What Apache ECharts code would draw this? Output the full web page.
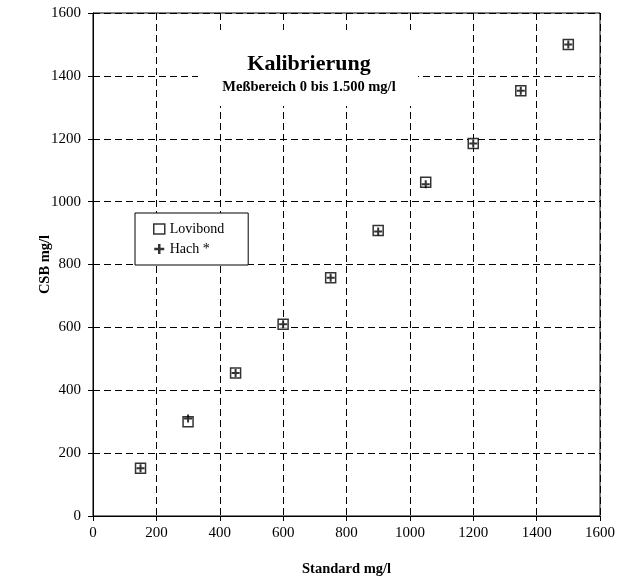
<!DOCTYPE html>
<html>
<head>
<meta charset="utf-8">
<script src="https://cdn.jsdelivr.net/npm/echarts@6/dist/echarts.min.js"></script>
<style>
    html, body { margin: 0; padding: 0; background: #fff; }
    #chart { width: 625px; height: 582px; }
</style>
</head>
<body>
<div id="chart"></div>
<script>
    // Messwerte
    var standard = [150, 300, 450, 600, 750, 900, 1050, 1200, 1350, 1500];
    var lovibond = [152, 300, 455, 610, 758, 908, 1062, 1185, 1353, 1500];
    var hach = [152, 310, 455, 610, 758, 905, 1055, 1185, 1353, 1500];

    var font = '"Liberation Serif", "Times New Roman", serif';

    function pairs(xs, ys) {
        var out = [];
        for (var i = 0; i < xs.length; i++) {
            out.push([xs[i], ys[i]]);
        }
        return out;
    }
    function plain(v) {
        return String(v);
    }

    var chart = echarts.init(document.getElementById('chart'));
    var option = {
        animation: false,
        backgroundColor: '#fff',
        textStyle: { fontFamily: font, color: '#000' },
        title: {
            text: 'Kalibrierung',
            subtext: 'Meßbereich 0 bis 1.500 mg/l',
            left: 304,
            top: 48,
            textAlign: 'center',
            itemGap: 5,
            textStyle: { fontFamily: font, fontSize: 22, fontWeight: 'bold', color: '#000' },
            subtextStyle: { fontFamily: font, fontSize: 14.5, fontWeight: 'bold', color: '#000' }
        },
        graphic: [{
            type: 'rect',
            shape: { x: 198, y: 30, width: 220, height: 76 },
            style: { fill: '#fff' },
            z: 5
        }],
        legend: {
            orient: 'vertical',
            left: 135,
            top: 213,
            padding: [9, 24, 9, 18],
            itemGap: 6,
            itemWidth: 11,
            itemHeight: 10,
            itemStyle: { borderWidth: 1.5 },
            backgroundColor: '#fff',
            borderColor: '#000',
            borderWidth: 1,
            borderRadius: 0,
            textStyle: { fontFamily: font, fontSize: 14, color: '#000' },
            data: ['Lovibond', 'Hach *']
        },
        grid: {
            left: 93,
            right: 25,
            top: 13,
            bottom: 63,
            show: true,
            borderColor: '#000',
            borderWidth: 1
        },
        xAxis: {
            type: 'value',
            min: 0,
            max: 1600,
            interval: 200,
            name: 'Standard mg/l',
            nameLocation: 'middle',
            nameGap: 46,
            nameTextStyle: { fontFamily: font, fontSize: 14.5, fontWeight: 'bold', color: '#000' },
            axisLine: { lineStyle: { color: '#000', width: 1 } },
            axisTick: { show: true, length: 5, lineStyle: { color: '#000' } },
            axisLabel: { fontFamily: font, fontSize: 15, color: '#000', margin: 10, formatter: plain },
            splitLine: { show: true, lineStyle: { color: '#000', type: [7, 4], width: 1 } }
        },
        yAxis: {
            type: 'value',
            min: 0,
            max: 1600,
            interval: 200,
            name: 'CSB mg/l',
            nameLocation: 'middle',
            nameGap: 40,
            nameMoveOverlap: false,
            nameTextStyle: { fontFamily: font, fontSize: 14.5, fontWeight: 'bold', color: '#000' },
            axisLine: { lineStyle: { color: '#000', width: 1 } },
            axisTick: { show: true, length: 5, lineStyle: { color: '#000' } },
            axisLabel: { fontFamily: font, fontSize: 15, color: '#000', margin: 12, formatter: plain },
            splitLine: { show: true, lineStyle: { color: '#000', type: [7, 4], width: 1 } }
        },
        series: [{
            name: 'Lovibond',
            type: 'scatter',
            symbol: 'rect',
            symbolSize: 10,
            itemStyle: { color: '#fff', borderColor: '#000', borderWidth: 1.5 },
            z: 10,
            data: pairs(standard, lovibond)
        }, {
            name: 'Hach *',
            type: 'scatter',
            symbol: 'path://M3,0H5V3H8V5H5V8H3V5H0V3H3Z',
            symbolSize: 8,
            itemStyle: { color: '#000' },
            z: 11,
            data: pairs(standard, hach)
        }]
    };
    chart.setOption(option);
</script>
</body>
</html>
